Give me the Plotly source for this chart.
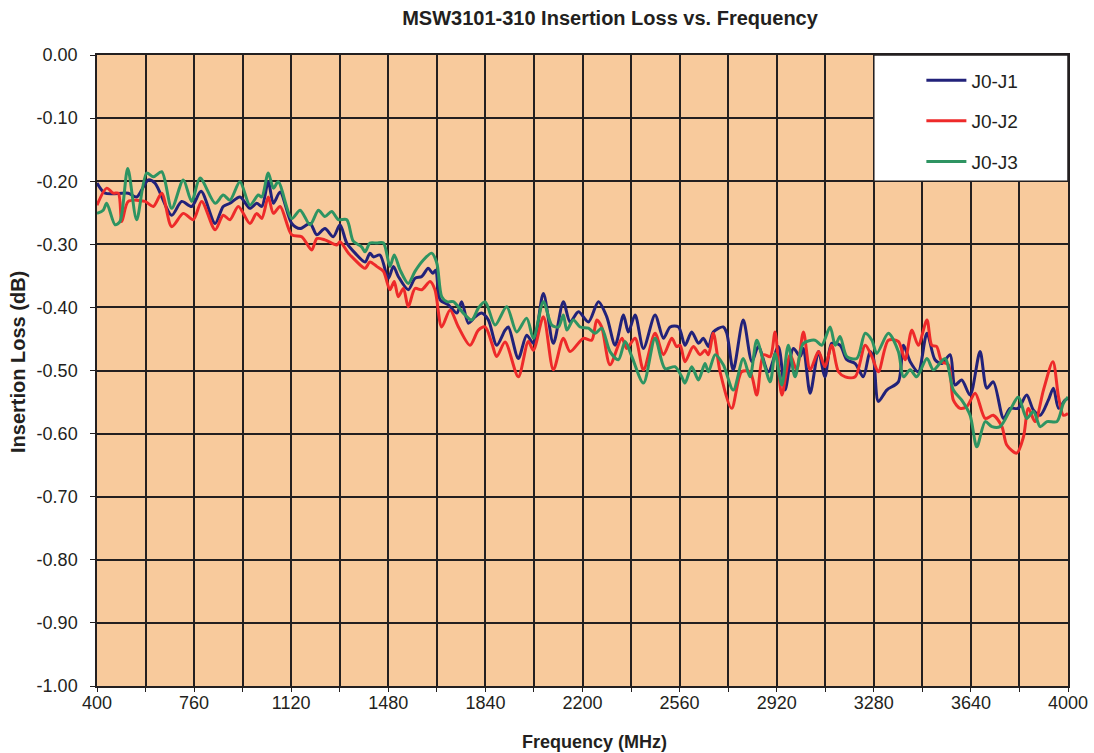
import plotly.graph_objects as go

# ---------------- data ----------------
freq_j1 = [400, 430, 516, 547, 590, 615, 677, 714, 751, 786, 838, 868, 893, 930, 967, 992, 1011, 1035, 1054,
           1079, 1122, 1153, 1190, 1215, 1245, 1276, 1301, 1326, 1357, 1394, 1412, 1425, 1449, 1480, 1499, 1517,
           1554, 1579, 1604, 1628, 1645, 1656, 1672, 1703, 1734, 1752, 1777, 1802, 1826, 1851, 1882, 1913, 1925,
           1962, 1993, 2018, 2055, 2092, 2129, 2154, 2185, 2222, 2259, 2290, 2321, 2352, 2370, 2395, 2426, 2469,
           2500, 2525, 2556, 2580, 2605, 2630, 2648, 2667, 2685, 2722, 2735, 2759, 2796, 2828, 2852, 2889, 2926,
           2951, 2982, 3007, 3019, 3044, 3075, 3099, 3124, 3155, 3180, 3211, 3241, 3266, 3279, 3297, 3328, 3371,
           3390, 3415, 3445, 3477, 3507, 3532, 3563, 3581, 3606, 3637, 3674, 3699, 3723, 3761, 3785, 3815, 3847,
           3872, 3897, 3927, 3946, 3965, 3989, 4000]
loss_j1 = [-0.203, -0.219, -0.219, -0.225, -0.198, -0.203, -0.254, -0.232, -0.240, -0.216, -0.267, -0.240, -0.235,
           -0.225, -0.243, -0.235, -0.240, -0.201, -0.235, -0.217, -0.267, -0.275, -0.267, -0.285, -0.275, -0.288,
           -0.269, -0.298, -0.314, -0.328, -0.314, -0.320, -0.317, -0.354, -0.335, -0.351, -0.372, -0.354, -0.351,
           -0.338, -0.346, -0.341, -0.388, -0.396, -0.409, -0.391, -0.425, -0.415, -0.409, -0.420, -0.460, -0.436,
           -0.431, -0.481, -0.444, -0.457, -0.378, -0.457, -0.391, -0.423, -0.407, -0.423, -0.391, -0.415, -0.460,
           -0.412, -0.439, -0.412, -0.465, -0.412, -0.449, -0.431, -0.431, -0.460, -0.439, -0.457, -0.449, -0.462,
           -0.439, -0.431, -0.441, -0.499, -0.420, -0.486, -0.462, -0.502, -0.462, -0.531, -0.465, -0.478, -0.465,
           -0.536, -0.470, -0.510, -0.457, -0.460, -0.483, -0.489, -0.510, -0.470, -0.481, -0.549, -0.531, -0.518,
           -0.460, -0.486, -0.502, -0.441, -0.483, -0.489, -0.475, -0.523, -0.515, -0.539, -0.470, -0.528, -0.518,
           -0.576, -0.560, -0.560, -0.539, -0.563, -0.571, -0.547, -0.528, -0.560, -0.547, -0.544]

freq_j2 = [400, 436, 460, 479, 492, 516, 578, 609, 640, 677, 720, 757, 788, 838, 868, 893, 924, 967, 992, 1011,
           1035, 1054, 1079, 1122, 1159, 1196, 1215, 1245, 1289, 1301, 1332, 1357, 1394, 1412, 1437, 1462, 1486,
           1502, 1517, 1536, 1554, 1579, 1604, 1635, 1653, 1678, 1709, 1740, 1783, 1814, 1839, 1864, 1882, 1913,
           1962, 1999, 2018, 2055, 2092, 2129, 2154, 2203, 2234, 2253, 2271, 2302, 2346, 2364, 2395, 2426, 2469,
           2500, 2531, 2549, 2562, 2580, 2611, 2636, 2654, 2667, 2685, 2710, 2753, 2790, 2821, 2846, 2871, 2896,
           2914, 2939, 2970, 2994, 3019, 3044, 3075, 3099, 3124, 3149, 3174, 3211, 3248, 3273, 3297, 3334, 3371,
           3396, 3421, 3445, 3477, 3495, 3513, 3532, 3557, 3575, 3600, 3625, 3656, 3693, 3723, 3755, 3773, 3810,
           3835, 3853, 3878, 3909, 3944, 3965, 3983, 4000]
loss_j2 = [-0.238, -0.211, -0.219, -0.219, -0.264, -0.232, -0.232, -0.240, -0.219, -0.272, -0.251, -0.261, -0.232,
           -0.277, -0.254, -0.261, -0.240, -0.267, -0.251, -0.259, -0.225, -0.251, -0.240, -0.285, -0.288, -0.309,
           -0.291, -0.293, -0.301, -0.296, -0.314, -0.325, -0.338, -0.328, -0.335, -0.343, -0.372, -0.359, -0.383,
           -0.370, -0.399, -0.370, -0.372, -0.359, -0.372, -0.431, -0.404, -0.431, -0.460, -0.436, -0.431, -0.457,
           -0.478, -0.455, -0.510, -0.454, -0.468, -0.415, -0.499, -0.449, -0.470, -0.449, -0.452, -0.420, -0.431,
           -0.491, -0.449, -0.465, -0.449, -0.499, -0.441, -0.475, -0.449, -0.462, -0.460, -0.486, -0.462, -0.475,
           -0.468, -0.475, -0.441, -0.502, -0.560, -0.502, -0.502, -0.539, -0.475, -0.478, -0.439, -0.539, -0.475,
           -0.499, -0.439, -0.499, -0.470, -0.494, -0.460, -0.502, -0.510, -0.510, -0.460, -0.478, -0.502, -0.452,
           -0.454, -0.483, -0.436, -0.460, -0.420, -0.460, -0.462, -0.486, -0.491, -0.547, -0.560, -0.557, -0.536,
           -0.576, -0.571, -0.589, -0.618, -0.631, -0.605, -0.560, -0.581, -0.531, -0.486, -0.542, -0.571, -0.568]

freq_j3 = [400, 423, 436, 467, 485, 514, 547, 584, 609, 640, 677, 720, 751, 782, 838, 868, 893, 930, 967, 998,
           1011, 1035, 1054, 1072, 1122, 1153, 1190, 1221, 1245, 1270, 1295, 1326, 1350, 1381, 1394, 1412, 1437,
           1462, 1486, 1502, 1524, 1554, 1579, 1610, 1641, 1660, 1678, 1697, 1721, 1758, 1789, 1814, 1839, 1876,
           1919, 1956, 1993, 2018, 2055, 2086, 2111, 2129, 2142, 2166, 2191, 2222, 2247, 2271, 2302, 2333, 2358,
           2383, 2426, 2469, 2506, 2543, 2568, 2580, 2605, 2630, 2654, 2667, 2692, 2722, 2759, 2796, 2821, 2846,
           2871, 2896, 2914, 2939, 2963, 2988, 3019, 3062, 3087, 3118, 3137, 3155, 3180, 3217, 3248, 3273, 3291,
           3334, 3371, 3390, 3415, 3439, 3477, 3501, 3544, 3575, 3606, 3637, 3662, 3693, 3718, 3748, 3785, 3816,
           3847, 3872, 3897, 3922, 3959, 3983, 4000]
loss_j3 = [-0.251, -0.246, -0.235, -0.269, -0.264, -0.180, -0.261, -0.187, -0.193, -0.185, -0.243, -0.198, -0.232,
           -0.195, -0.235, -0.222, -0.230, -0.201, -0.238, -0.222, -0.225, -0.187, -0.211, -0.201, -0.259, -0.246,
           -0.269, -0.246, -0.256, -0.248, -0.261, -0.261, -0.295, -0.304, -0.312, -0.298, -0.298, -0.298, -0.335,
           -0.317, -0.341, -0.362, -0.343, -0.325, -0.314, -0.330, -0.383, -0.391, -0.391, -0.409, -0.420, -0.401,
           -0.391, -0.428, -0.399, -0.439, -0.417, -0.449, -0.391, -0.428, -0.431, -0.412, -0.436, -0.420, -0.431,
           -0.433, -0.441, -0.433, -0.470, -0.483, -0.454, -0.478, -0.520, -0.449, -0.497, -0.494, -0.510, -0.520,
           -0.494, -0.515, -0.489, -0.502, -0.475, -0.491, -0.531, -0.481, -0.510, -0.452, -0.486, -0.518, -0.473,
           -0.523, -0.460, -0.510, -0.457, -0.452, -0.460, -0.431, -0.460, -0.446, -0.478, -0.481, -0.441, -0.452,
           -0.473, -0.441, -0.470, -0.510, -0.499, -0.510, -0.481, -0.499, -0.481, -0.531, -0.547, -0.571, -0.621,
           -0.581, -0.589, -0.589, -0.563, -0.542, -0.576, -0.565, -0.589, -0.581, -0.581, -0.552, -0.542]

series_names = ["J0-J1", "J0-J2", "J0-J3"]
series_colors = ["#22227A", "#EE2A2A", "#2E9462"]

x_tick_vals = [400, 760, 1120, 1480, 1840, 2200, 2560, 2920, 3280, 3640, 4000]
y_tick_vals = [0.0, -0.1, -0.2, -0.3, -0.4, -0.5, -0.6, -0.7, -0.8, -0.9, -1.0]
y_tick_text = ["0.00", "-0.10", "-0.20", "-0.30", "-0.40", "-0.50", "-0.60", "-0.70", "-0.80", "-0.90", "-1.00"]

legend_box_x = [3280, 4000]
legend_box_y = [-0.2, 0.0]

FONT = "Liberation Sans, Arial, sans-serif"
GRID = "#231F20"
TXT = "#231F20"

fig = go.Figure()
for i, (fx, ly) in enumerate([(freq_j1, loss_j1), (freq_j2, loss_j2), (freq_j3, loss_j3)]):
    fig.add_trace(go.Scatter(
        x=fx, y=ly, mode="lines", name=series_names[i], legendgroup=series_names[i],
        line=dict(color=series_colors[i], width=3, shape="spline", smoothing=0.8),
    ))

# legend box (white panel with black border, top-right of plot)
fig.add_shape(type="rect", xref="x", yref="y",
              x0=legend_box_x[0], x1=legend_box_x[1], y0=legend_box_y[0], y1=legend_box_y[1],
              fillcolor="white", line=dict(color=GRID, width=1.5), layer="above")

# axis titles as annotations (exact placement)
fig.add_annotation(text="<b>Frequency (MHz)</b>", xref="paper", yref="paper", x=0.512, y=-0.0887,
                   xanchor="center", yanchor="middle", showarrow=False,
                   font=dict(size=18, family=FONT, color=TXT))
fig.add_annotation(text="<b>Insertion Loss (dB)</b>", xref="paper", yref="paper", x=-0.0814, y=0.5135,
                   xanchor="center", yanchor="middle", showarrow=False, textangle=-90,
                   font=dict(size=20, family=FONT, color=TXT))

fig.update_layout(
    width=1094, height=753,
    margin=dict(l=97, r=26, t=55, b=67, autoexpand=False),
    paper_bgcolor="white",
    plot_bgcolor="#F8CA9C",
    font=dict(family=FONT, color=TXT, size=16),
    title=dict(text="<b>MSW3101-310 Insertion Loss vs. Frequency</b>", x=0.5576, xanchor="center",
               y=0.976, yanchor="middle", font=dict(size=20, family=FONT, color=TXT)),
    showlegend=True,
    legend=dict(x=0.849, y=0.990, xanchor="left", yanchor="top", bgcolor="rgba(0,0,0,0)",
                borderwidth=0, font=dict(size=19, family=FONT, color=TXT),
                tracegroupgap=13, itemwidth=40),
    xaxis=dict(
        range=[400, 4000], tickvals=x_tick_vals, ticks="outside", ticklen=4, tickcolor=GRID,
        ticklabelstandoff=-4, automargin=False,
        showgrid=True, gridcolor=GRID, gridwidth=1.5,
        minor=dict(dtick=180, tick0=400, showgrid=True, gridcolor=GRID, gridwidth=1.5, ticks="outside",
                   ticklen=4, tickcolor=GRID),
        showline=True, linecolor=GRID, linewidth=1.5, mirror=True, zeroline=False,
        tickfont=dict(size=18, family=FONT, color=TXT),
    ),
    yaxis=dict(
        range=[-1.0, 0.0], tickvals=y_tick_vals, ticktext=y_tick_text, ticks="outside", ticklen=5,
        tickcolor=GRID, ticklabelstandoff=9, automargin=False, showgrid=True, gridcolor=GRID, gridwidth=1.5,
        showline=True, linecolor=GRID, linewidth=1.5, mirror=True, zeroline=False,
        tickfont=dict(size=18, family=FONT, color=TXT),
    ),
)

fig.write_html("out.html", config={"displayModeBar": False},
               post_script="document.body.style.margin='0';document.body.style.overflow='hidden';")
